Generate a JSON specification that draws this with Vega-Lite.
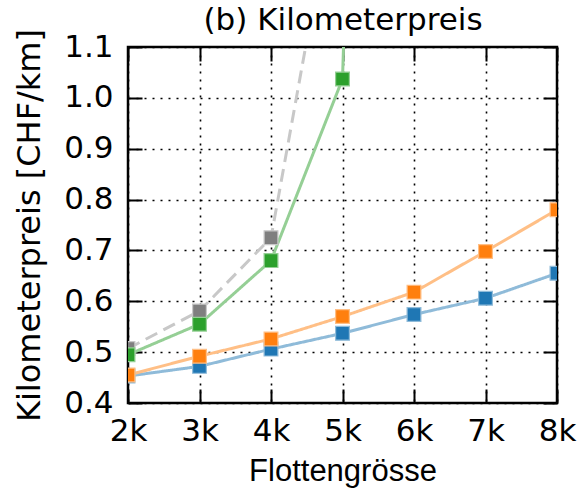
{
  "$schema": "https://vega.github.io/schema/vega-lite/v6.json",
  "autosize": "none",
  "width": 429,
  "height": 356,
  "padding": {"left": 128, "top": 47, "right": 21, "bottom": 89},
  "config": {
    "font": "DejaVu Sans",
    "view": {"stroke": "black", "strokeWidth": 2.5},
    "axis": {
      "domain": false,
      "tickColor": "black", "tickWidth": 2, "tickSize": -14,
      "gridColor": "black", "gridDash": [2, 6], "gridWidth": 1.6, "gridOpacity": 1,
      "labelFont": "DejaVu Sans", "labelFontSize": 31, "labelColor": "black",
      "titleFont": "DejaVu Sans", "titleFontSize": 31, "titleColor": "black", "titleFontWeight": "normal"
    }
  },
  "data": {"values": [
    {"s": "A", "x": 2, "y": 0.453}, {"s": "A", "x": 3, "y": 0.472}, {"s": "A", "x": 4, "y": 0.506},
    {"s": "A", "x": 5, "y": 0.537}, {"s": "A", "x": 6, "y": 0.574}, {"s": "A", "x": 7, "y": 0.606},
    {"s": "A", "x": 8, "y": 0.655},
    {"s": "B", "x": 2, "y": 0.455}, {"s": "B", "x": 3, "y": 0.492}, {"s": "B", "x": 4, "y": 0.526},
    {"s": "B", "x": 5, "y": 0.570}, {"s": "B", "x": 6, "y": 0.618}, {"s": "B", "x": 7, "y": 0.698},
    {"s": "B", "x": 8, "y": 0.780},
    {"s": "D", "x": 2, "y": 0.507}, {"s": "D", "x": 3, "y": 0.581}, {"s": "D", "x": 4, "y": 0.725},
    {"s": "D", "x": 5, "y": 1.5},
    {"s": "C", "x": 2, "y": 0.495}, {"s": "C", "x": 3, "y": 0.555}, {"s": "C", "x": 4, "y": 0.680},
    {"s": "C", "x": 5, "y": 1.037}, {"s": "C", "x": 6, "y": 5.5}
  ]},
  "layer": [
    {
      "mark": {"type": "line", "clip": true, "strokeWidth": 3},
      "encoding": {
        "x": {"field": "x", "type": "quantitative", "scale": {"domain": [2, 8], "nice": false, "zero": false},
          "axis": {"orient": "bottom", "values": [2, 3, 4, 5, 6, 7, 8], "labelExpr": "datum.value + 'k'", "title": "Flottengrösse", "titleFont": "Liberation Sans", "labelPadding": 27, "titlePadding": 10, "labelFlush": false}},
        "y": {"field": "y", "type": "quantitative", "scale": {"domain": [0.4, 1.1], "nice": false, "zero": false},
          "axis": {"orient": "left", "values": [0.4, 0.5, 0.6, 0.7, 0.8, 0.9, 1.0, 1.1], "format": ".1f", "title": "Kilometerpreis [CHF/km]", "titleFontSize": 32, "labelPadding": 29, "titlePadding": 17, "labelFlush": false}},
        "stroke": {"field": "s", "type": "nominal", "legend": null,
          "scale": {"domain": ["A", "B", "C", "D"], "range": ["#8fbbd9", "#ffbf86", "#95cf95", "#c8c8c8"]}},
        "strokeDash": {"field": "s", "type": "nominal", "legend": null,
          "scale": {"domain": ["A", "B", "C", "D"], "range": [[1, 0], [1, 0], [1, 0], [13, 7]]}}
      }
    },
    {
      "mark": {"type": "point", "shape": "square", "filled": true, "clip": true, "size": 190, "opacity": 1, "strokeWidth": 1.2},
      "encoding": {
        "x": {"field": "x", "type": "quantitative", "axis": null},
        "y": {"field": "y", "type": "quantitative", "axis": null},
        "fill": {"field": "s", "type": "nominal", "legend": null,
          "scale": {"domain": ["A", "B", "C", "D"], "range": ["#1f77b4", "#ff7f0e", "#2ca02c", "#7f7f7f"]}},
        "stroke": {"field": "s", "type": "nominal", "legend": null,
          "scale": {"domain": ["A", "B", "C", "D"], "range": ["#8fbbd9", "#ffbf86", "#95cf95", "#c8c8c8"]}}
      }
    },
    {
      "mark": {"type": "point", "opacity": 0, "clip": true},
      "encoding": {
        "x": {"field": "x", "type": "quantitative",
          "axis": {"orient": "top", "values": [2, 3, 4, 5, 6, 7, 8], "labels": false, "title": "(b) Kilometerpreis", "titleBaseline": "alphabetic", "titlePadding": 18, "grid": false, "minExtent": 0, "maxExtent": 0}},
        "y": {"field": "y", "type": "quantitative",
          "axis": {"orient": "right", "values": [0.4, 0.5, 0.6, 0.7, 0.8, 0.9, 1.0, 1.1], "labels": false, "title": null, "grid": false, "minExtent": 0, "maxExtent": 0}}
      }
    }
  ],
  "resolve": {"axis": {"x": "independent", "y": "independent"}}
}
